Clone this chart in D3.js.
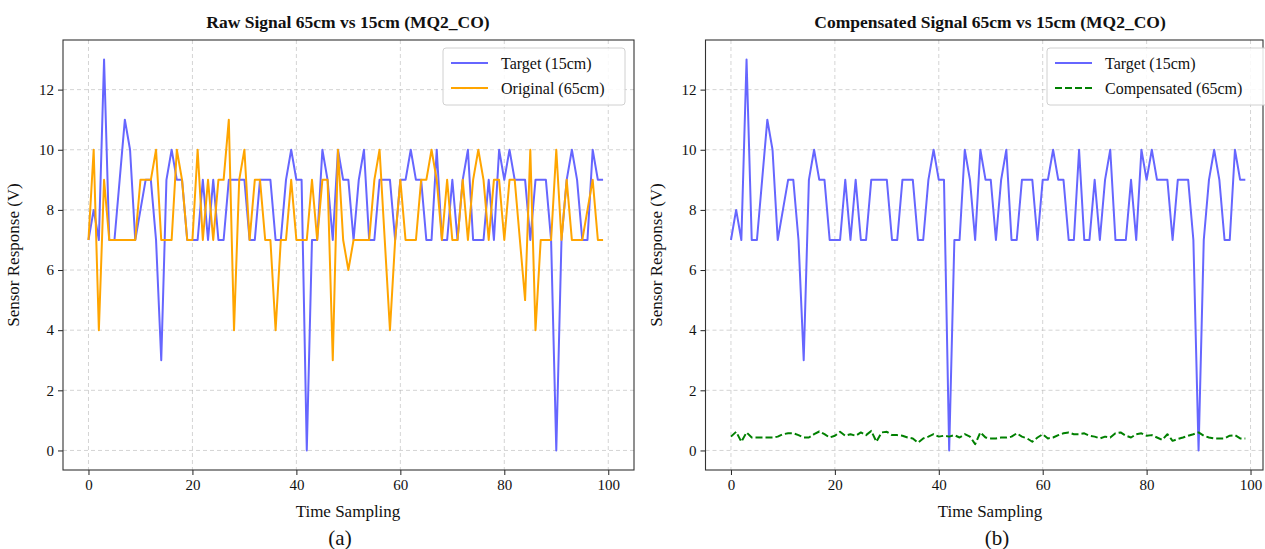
<!DOCTYPE html>
<html>
<head>
<meta charset="utf-8">
<script src="https://cdn.jsdelivr.net/npm/d3@7"></script>
<style>
  html, body { margin: 0; padding: 0; background: #fff; }
  svg { display: block; font-family: "Liberation Serif", "Times New Roman", serif; }
</style>
</head>
<body>
<svg id="fig" width="1265" height="549"></svg>
<script>
// MQ2_CO sensor readings, sampled 0..99
const samples = d3.range(100);

const target15 = [
  7,8,7,13,7,7,9,11,10,7,
  8,9,9,7,3,9,10,9,9,7,
  7,7,9,7,9,7,7,9,9,9,
  9,7,7,9,9,9,7,7,9,10,
  9,9,0,7,7,10,9,7,10,9,
  9,7,9,10,7,7,9,9,9,7,
  9,9,10,9,9,7,7,10,7,7,
  9,7,9,10,7,7,7,9,7,10,
  9,10,9,9,9,7,9,9,9,7,
  0,7,9,10,9,7,7,10,9,9
];

const original65 = [
  7,10,4,9,7,7,7,7,7,7,
  9,9,9,10,7,7,7,10,9,7,
  7,10,7,9,7,9,9,11,4,9,
  10,7,9,9,7,7,4,7,7,9,
  7,7,7,9,7,9,9,3,10,7,
  6,7,7,7,7,9,10,7,4,7,
  9,7,7,7,9,9,10,9,7,9,
  7,7,9,7,9,10,9,7,9,9,
  7,9,9,7,5,10,4,7,7,7,
  10,7,9,7,7,7,8,9,7,7
];

const compensated65 = [
  0.46,0.62,0.29,0.60,0.43,0.43,0.43,0.43,0.43,0.46,
  0.54,0.57,0.57,0.51,0.43,0.43,0.54,0.63,0.54,0.43,
  0.49,0.62,0.49,0.54,0.49,0.60,0.51,0.65,0.29,0.60,
  0.62,0.51,0.51,0.49,0.43,0.40,0.26,0.40,0.46,0.54,
  0.46,0.49,0.46,0.51,0.43,0.54,0.46,0.21,0.60,0.43,
  0.40,0.40,0.43,0.43,0.46,0.57,0.46,0.40,0.29,0.43,
  0.54,0.40,0.43,0.51,0.57,0.60,0.54,0.54,0.57,0.49,
  0.46,0.40,0.46,0.43,0.57,0.60,0.49,0.43,0.54,0.57,
  0.49,0.51,0.43,0.35,0.54,0.32,0.38,0.43,0.49,0.54,
  0.60,0.49,0.43,0.40,0.40,0.40,0.49,0.51,0.40,0.40
];

const xTicks = [0, 20, 40, 60, 80, 100];
const yTicks = [0, 2, 4, 6, 8, 10, 12];

const BLUE = "#6666ff", ORANGE = "#ffa500", GREEN = "#008000";

const svg = d3.select("#fig");

function panel(opts) {
  const { left, right, top, bottom, xDomain, titleX, title, series, legendBox, tag, tagLabel } = opts;
  const g = svg.append("g");

  const x = d3.scaleLinear().domain(xDomain).range([left, right]);
  const y = d3.scaleLinear().domain([-0.65, 13.65]).range([bottom, top]);

  const clipId = "clip-" + tag;
  svg.append("clipPath").attr("id", clipId)
    .append("rect").attr("x", left).attr("y", top)
    .attr("width", right - left).attr("height", bottom - top);

  // grid
  const grid = g.append("g").attr("clip-path", `url(#${clipId})`);
  grid.selectAll(".gx").data(xTicks).join("line")
    .attr("x1", d => x(d)).attr("x2", d => x(d))
    .attr("y1", top).attr("y2", bottom)
    .attr("stroke", "#b0b0b0").attr("stroke-opacity", 0.55)
    .attr("stroke-width", 1).attr("stroke-dasharray", "4,3");
  grid.selectAll(".gy").data(yTicks).join("line")
    .attr("x1", left).attr("x2", right)
    .attr("y1", d => y(d)).attr("y2", d => y(d))
    .attr("stroke", "#b0b0b0").attr("stroke-opacity", 0.55)
    .attr("stroke-width", 1).attr("stroke-dasharray", "4,3");

  // data lines
  const plot = g.append("g").attr("clip-path", `url(#${clipId})`);
  series.forEach(s => {
    const line = d3.line().x((d, i) => x(samples[i])).y(d => y(d));
    plot.append("path").datum(s.values)
      .attr("d", line)
      .attr("fill", "none")
      .attr("stroke", s.color)
      .attr("stroke-width", 2)
      .attr("stroke-linejoin", "round")
      .attr("stroke-dasharray", s.dash || null);
  });

  // axes
  const xAxis = d3.axisBottom(x).tickValues(xTicks).tickSize(5).tickPadding(4);
  const yAxis = d3.axisLeft(y).tickValues(yTicks).tickSize(5).tickPadding(4);
  const ax = g.append("g").attr("transform", `translate(0,${bottom})`).call(xAxis);
  const ay = g.append("g").attr("transform", `translate(${left},0)`).call(yAxis);
  [ax, ay].forEach(a => {
    a.select(".domain").remove();
    a.selectAll("line").attr("stroke", "#222").attr("stroke-width", 1);
    a.selectAll("text").attr("fill", "#111").style("font-size", "15px")
      .style("font-family", '"Liberation Serif", serif');
  });

  // frame
  g.append("rect").attr("x", left).attr("y", top)
    .attr("width", right - left).attr("height", bottom - top)
    .attr("fill", "none").attr("stroke", "#333").attr("stroke-width", 1.1);

  const cx = titleX;
  g.append("text").attr("x", cx).attr("y", 28)
    .attr("text-anchor", "middle").style("font-size", "17.5px").style("font-weight", "bold")
    .attr("fill", "#111").text(title);
  g.append("text").attr("x", cx).attr("y", 517)
    .attr("text-anchor", "middle").style("font-size", "17px").attr("fill", "#111")
    .text("Time Sampling");
  g.append("text")
    .attr("transform", `translate(${left - 44},${(top + bottom) / 2}) rotate(-90)`)
    .attr("text-anchor", "middle").style("font-size", "17px").attr("fill", "#111")
    .text("Sensor Response (V)");

  // subfigure tag below the axis label
  g.append("text").attr("x", tagLabel.x).attr("y", 545)
    .attr("text-anchor", "middle").style("font-size", "21px").attr("fill", "#111")
    .text(tagLabel.text);

  // legend
  const lb = legendBox;
  const lg = g.append("g");
  lg.append("rect").attr("x", lb.x).attr("y", lb.y).attr("width", lb.w).attr("height", lb.h)
    .attr("rx", 3).attr("fill", "#fff").attr("fill-opacity", 0.85)
    .attr("stroke", "#d0d0d0").attr("stroke-width", 1);
  series.forEach((s, i) => {
    const yy = lb.y + 15 + i * 25;
    lg.append("line").attr("x1", lb.x + 8).attr("x2", lb.x + 45)
      .attr("y1", yy).attr("y2", yy)
      .attr("stroke", s.color).attr("stroke-width", 2)
      .attr("stroke-dasharray", s.dash || null);
    lg.append("text").attr("x", lb.x + 58).attr("y", yy + 5.5)
      .style("font-size", "16px").attr("fill", "#111").text(s.label);
  });
}

panel({
  tag: "a", left: 63, right: 634, top: 40, bottom: 470,
  xDomain: [-4.9, 104.95], titleX: 348,
  title: "Raw Signal 65cm vs 15cm (MQ2_CO)",
  series: [
    { label: "Target (15cm)", values: target15, color: BLUE },
    { label: "Original (65cm)", values: original65, color: ORANGE }
  ],
  legendBox: { x: 443, y: 48, w: 182, h: 57 },
  tagLabel: { x: 340, text: "(a)" }
});

panel({
  tag: "b", left: 705.5, right: 1263, top: 40, bottom: 470,
  xDomain: [-4.9, 102.4], titleX: 990,
  title: "Compensated Signal 65cm vs 15cm (MQ2_CO)",
  series: [
    { label: "Target (15cm)", values: target15, color: BLUE },
    { label: "Compensated (65cm)", values: compensated65, color: GREEN, dash: "7,3" }
  ],
  legendBox: { x: 1047, y: 48, w: 222, h: 57 },
  tagLabel: { x: 997, text: "(b)" }
});
</script>
</body>
</html>
